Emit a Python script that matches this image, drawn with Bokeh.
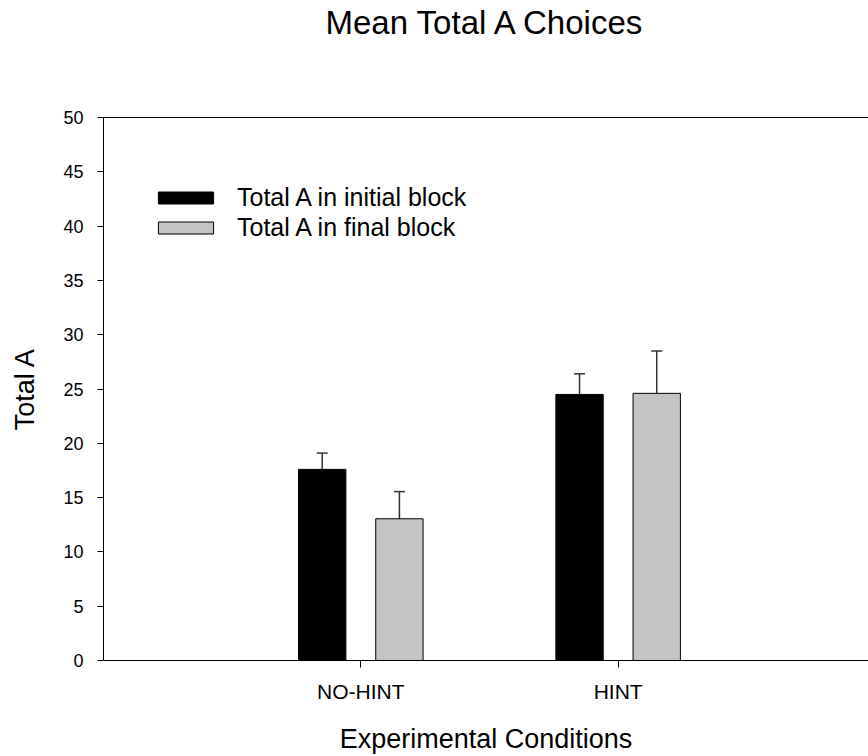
from bokeh.plotting import figure
from bokeh.models import (ColumnDataSource, Range1d, FixedTicker, LinearAxis,
                          Whisker, TeeHead, Legend, LegendItem)
from bokeh.embed import file_html
from bokeh.resources import INLINE

# ---- data ----
categories = ["NO-HINT", "HINT"]
initial_block = [17.6, 24.5]
initial_err = [1.5, 1.9]
final_block = [13.05, 24.6]
final_err = [2.5, 3.9]
y_ticks = [0, 5, 10, 15, 20, 25, 30, 35, 40, 45, 50]
series_labels = ["Total A in initial block", "Total A in final block"]
title_text = "Mean Total A Choices"

# ---- style / layout ----
FONT = "Liberation Sans"
OFFSET = 0.15
BAR_W = 0.184
GREY = "#c4c4c4"
ERR = "#333333"

positions = [i + 1 for i in range(len(categories))]

src_i = ColumnDataSource(dict(
    x=[p - OFFSET for p in positions], top=initial_block,
    upper=[v + e for v, e in zip(initial_block, initial_err)]))
src_f = ColumnDataSource(dict(
    x=[p + OFFSET for p in positions], top=final_block,
    upper=[v + e for v, e in zip(final_block, final_err)]))

p = figure(width=868, height=756, x_range=Range1d(0, 2.973), y_range=Range1d(0, 50),
           output_backend="svg", toolbar_location=None,
           min_border_left=103, min_border_right=0, min_border_top=117, min_border_bottom=95)
p.grid.visible = False
p.outline_line_color = None
p.background_fill_color = "white"
p.border_fill_color = "white"

# x axis
xa = p.xaxis[0]
xa.ticker = FixedTicker(ticks=positions)
xa.major_label_overrides = {pos: cat for pos, cat in zip(positions, categories)}
xa.major_tick_out = 7
xa.major_tick_in = 0
xa.minor_tick_out = 0
xa.minor_tick_in = 0
xa.major_label_text_font = FONT
xa.major_label_text_font_size = "21px"
xa.major_label_text_color = "black"
xa.major_label_standoff = 12
xa.axis_label = "Experimental Conditions"
xa.axis_label_text_font = FONT
xa.axis_label_text_font_size = "27px"
xa.axis_label_text_font_style = "normal"
xa.axis_label_text_color = "black"
xa.axis_label_standoff = 18
xa.axis_line_color = "black"
xa.major_tick_line_color = "black"

# y axis
ya = p.yaxis[0]
ya.ticker = FixedTicker(ticks=y_ticks)
ya.major_tick_out = 6
ya.major_tick_in = 0
ya.minor_tick_out = 0
ya.minor_tick_in = 0
ya.major_label_text_font = FONT
ya.major_label_text_font_size = "18px"
ya.major_label_text_color = "black"
ya.major_label_standoff = 14
ya.axis_label = "Total A"
ya.axis_label_text_font = FONT
ya.axis_label_text_font_size = "27px"
ya.axis_label_text_font_style = "normal"
ya.axis_label_text_color = "black"
ya.axis_label_standoff = 20
ya.axis_line_color = "black"
ya.major_tick_line_color = "black"

# top frame line, carrying the chart title as its label
top = LinearAxis(ticker=FixedTicker(ticks=[]), major_label_text_font_size="0px",
                 major_tick_out=0, major_tick_in=0, minor_tick_out=0, minor_tick_in=0,
                 axis_line_color="black", major_label_standoff=0,
                 axis_label=title_text, axis_label_text_font=FONT,
                 axis_label_text_font_size="33px", axis_label_text_font_style="normal",
                 axis_label_text_color="black", axis_label_standoff=77)
p.add_layout(top, "above")

# bars
r_i = p.vbar(x="x", top="top", width=BAR_W, bottom=0, source=src_i,
             fill_color="black", line_color="black", line_width=1)
r_f = p.vbar(x="x", top="top", width=BAR_W, bottom=0, source=src_f,
             fill_color=GREY, line_color="black", line_width=1)

for src in (src_i, src_f):
    w = Whisker(base="x", upper="upper", lower="top", source=src, dimension="height",
                line_color=ERR, line_width=1.5, lower_head=None,
                upper_head=TeeHead(size=11, line_color=ERR, line_width=1.5))
    p.add_layout(w)

legend = Legend(items=[LegendItem(label=series_labels[0], renderers=[r_i]),
                       LegendItem(label=series_labels[1], renderers=[r_f])],
                location=(48, 418), border_line_color=None, background_fill_alpha=0,
                glyph_width=69, glyph_height=15, label_height=30, label_standoff=17,
                label_text_font=FONT, label_text_font_size="25px", label_text_color="black",
                spacing=0, padding=0, margin=0)
p.add_layout(legend)

open("out.html", "w").write(file_html(p, INLINE))
